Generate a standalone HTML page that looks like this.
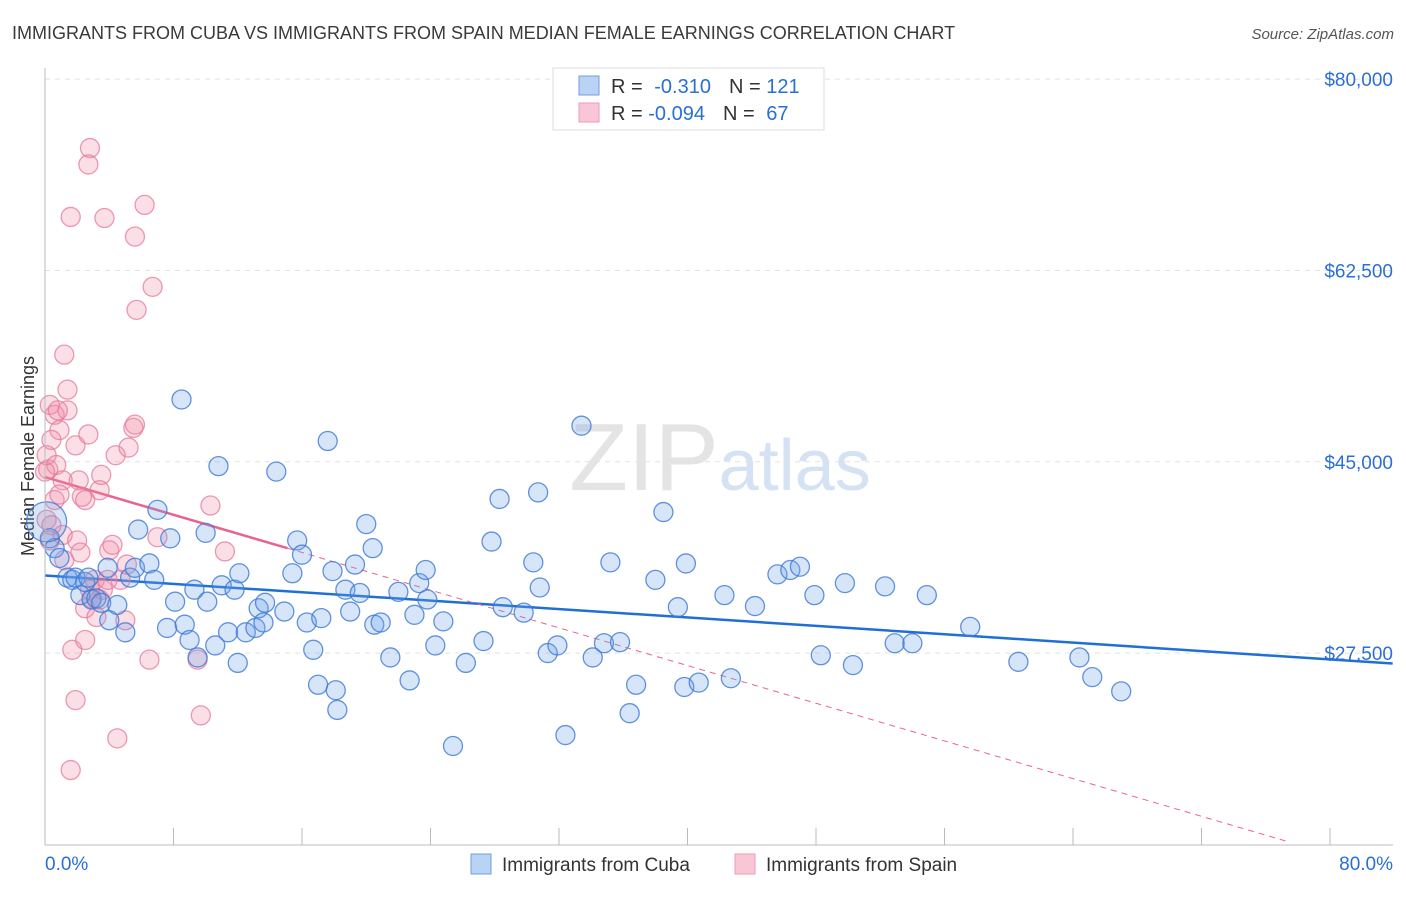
<!DOCTYPE html>
<html><head><meta charset="utf-8"><style>
body{margin:0;background:#fff;font-family:"Liberation Sans",sans-serif;}
svg text{font-family:"Liberation Sans",sans-serif;}
</style></head><body>
<svg id="chart" width="1406" height="892" xmlns="http://www.w3.org/2000/svg">
<text x="12" y="39" font-size="18" fill="#3a3a3a">IMMIGRANTS FROM CUBA VS IMMIGRANTS FROM SPAIN MEDIAN FEMALE EARNINGS CORRELATION CHART</text>
<text x="1394" y="39" font-size="15" fill="#555" text-anchor="end" font-style="italic">Source: ZipAtlas.com</text>
<text x="720" y="490" font-size="96" fill="#e4e4e4" text-anchor="middle" font-family="Liberation Serif">ZIP<tspan fill="#d4e2f4" font-family="Liberation Sans" font-size="72">atlas</tspan></text>
<text transform="translate(34,456) rotate(-90)" font-size="18" fill="#333" text-anchor="middle">Median Female Earnings</text>
<g id="grid"></g><g id="trend"></g><g id="pts"></g><g id="axes"></g>
<g>
<rect x="553" y="68" width="271" height="62" fill="#fff" stroke="#ddd"/>
<rect x="579" y="76" width="20" height="19" fill="#b9d3f5" stroke="#6f9de0"/>
<rect x="579" y="103" width="20" height="19" fill="#f9c6d6" stroke="#ee9ab5"/>
<text x="611" y="93" font-size="20" fill="#333">R = <tspan fill="#2a6fd6" dx="6">-0.310</tspan><tspan fill="#333" dx="18">N = </tspan><tspan fill="#2a6fd6">121</tspan></text>
<text x="611" y="120" font-size="20" fill="#333">R = <tspan fill="#2a6fd6">-0.094</tspan><tspan fill="#333" dx="18">N = </tspan><tspan fill="#2a6fd6" dx="6">67</tspan></text>
</g>
<g>
<rect x="471" y="854" width="20" height="20" fill="#b9d3f5" stroke="#6f9de0"/>
<text x="502" y="871" font-size="19" fill="#333">Immigrants from Cuba</text>
<rect x="735" y="854" width="20" height="20" fill="#f9c6d6" stroke="#ee9ab5"/>
<text x="766" y="871" font-size="19" fill="#333">Immigrants from Spain</text>
</g>
</svg>
<script>
const yTicks=[27500,45000,62500,80000];
const yTickLabels=["$27,500","$45,000","$62,500","$80,000"];
const xTickLabels=["0.0%","80.0%"];
const cubaX=[0.3,0.6,0.9,1.4,1.7,1.9,2.2,2.5,2.7,2.9,3.2,3.5,3.9,4.0,4.5,5.0,5.3,5.6,5.8,6.5,6.8,7.0,7.8,8.1,8.5,7.6,8.7,9.0,9.3,9.5,10.0,10.1,10.6,10.8,11.0,11.4,11.8,12.0,12.1,12.5,13.1,13.3,13.6,13.7,14.4,14.9,15.4,15.7,16.0,16.3,16.7,17.0,17.2,17.6,17.9,18.1,18.2,18.7,19.0,19.3,19.6,20.0,20.4,20.5,20.9,21.5,22.0,22.7,23.0,23.3,23.7,23.8,24.3,24.8,25.4,26.2,27.3,27.8,28.3,28.5,29.8,30.4,30.7,30.8,31.3,31.9,32.4,33.4,34.1,34.8,35.2,35.8,36.4,36.8,38.0,38.5,39.4,39.8,39.9,40.7,42.3,42.7,44.2,45.6,46.4,47.0,47.9,48.3,49.8,50.3,52.3,52.9,54.0,54.9,57.6,60.6,64.4,65.2,67.0];
const cubaY=[38.0,37.1,36.2,34.4,34.2,34.4,32.8,34.0,34.4,32.4,32.5,32.1,35.3,30.5,31.9,29.4,34.4,35.3,38.8,35.7,34.2,40.6,38.0,32.2,50.7,29.8,30.1,28.7,33.3,27.1,38.5,32.2,28.2,44.6,33.7,29.4,33.3,26.6,34.8,29.4,29.8,31.6,30.3,32.1,44.1,31.3,34.8,37.8,36.5,30.3,27.8,24.6,30.7,46.9,35.0,24.1,22.3,33.3,31.3,35.6,33.0,39.3,37.1,30.1,30.3,27.1,33.1,25.0,31.0,33.9,35.1,32.4,28.2,30.4,19.0,26.6,28.6,37.7,41.6,31.7,31.2,35.8,42.2,33.5,27.5,28.2,20.0,48.3,27.1,28.4,35.8,28.5,22.0,24.6,34.2,40.4,31.7,24.4,35.7,24.8,32.8,25.2,31.8,34.7,35.1,35.4,32.8,27.3,33.9,26.4,33.6,28.4,28.4,32.8,29.9,26.7,27.1,25.3,24.0];
const spainX=[0.1,0.2,0.3,0.4,0.6,0.7,0.9,1.1,1.1,1.2,1.4,1.4,1.6,1.6,1.7,1.9,1.9,2.0,2.1,2.2,2.3,2.5,2.5,2.7,2.7,2.8,2.9,3.1,3.2,3.4,3.5,3.6,3.7,3.9,4.0,4.2,4.4,4.5,4.7,5.0,5.1,5.2,5.5,5.6,5.6,5.7,6.2,6.5,6.7,7.0,9.5,9.7,10.3,11.2,1.2,0.3,0.0,0.6,0.9,2.5,3.4,0.8,0.4,0.1,2.8];
const spainY=[39.7,44.3,50.2,39.2,49.3,44.7,47.9,43.3,38.3,36.0,51.6,49.7,16.8,67.4,27.8,46.5,23.2,37.8,43.3,36.7,41.8,31.6,28.7,72.2,47.5,73.7,32.5,34.2,30.8,42.4,43.8,33.3,67.3,34.2,36.9,37.4,45.6,19.7,34.2,30.5,35.6,46.3,48.1,65.6,48.4,58.9,68.5,26.9,61.0,38.1,26.9,21.8,41.0,36.8,54.8,37.8,44.1,41.5,42.0,41.5,32.4,49.7,47.0,45.6,33.3];
const cubaTrend=[34.6,-0.096];   // intercept (k$), slope (k$ per %)
const spainTrend=[43.6,-0.431];
const NS="http://www.w3.org/2000/svg";
const X=p=>45+p*16.0625;
const Y=k=>953.7-k*1000*191.3/17500;
function mk(tag,attrs,parent){const e=document.createElementNS(NS,tag);for(const k in attrs)e.setAttribute(k,attrs[k]);parent.appendChild(e);return e;}
const grid=document.getElementById('grid'),axes=document.getElementById('axes'),trend=document.getElementById('trend'),pts=document.getElementById('pts');
yTicks.forEach((t,i)=>{
 const l=mk('line',{x1:45,x2:1393,y1:Y(t/1000),y2:Y(t/1000),stroke:'#e2e2e2','stroke-dasharray':'5,5'},grid);
 
 
 const tx=mk('text',{x:1393,y:Y(t/1000)+7,'font-size':19,fill:'#2a6fd6','text-anchor':'end'},axes);
 tx.textContent=yTickLabels[i];
 
 
});
const ya=mk('line',{x1:45,x2:45,y1:68,y2:845,stroke:'#bbb'},axes);


const xa=mk('line',{x1:45,x2:1393,y1:845,y2:845,stroke:'#bbb'},axes);


for(let i=0;i<=10;i++){const t=mk('line',{x1:X(i*8),x2:X(i*8),y1:828,y2:845,stroke:'#bbb'},axes);
 
 }
[[0,'start',45],[80,'end',1393]].forEach((d,i)=>{const t=mk('text',{x:d[2],y:870,'font-size':19,fill:'#2a6fd6','text-anchor':d[1]},axes);t.textContent=xTickLabels[i];
 
 });
// points
function dots(xs,ys,fill,stroke,name){xs.forEach((x,i)=>{const c=mk('circle',{cx:X(x),cy:Y(ys[i]),r:9.5,fill:fill,stroke:stroke,'stroke-width':1.3},pts);
 
 });}
dots(spainX,spainY,'rgba(240,140,170,0.28)','rgba(230,120,155,0.75)','spain-point');
dots(cubaX,cubaY,'rgba(110,160,230,0.28)','rgba(60,120,215,0.8)','cuba-point');
const big=mk('circle',{cx:X(0.1),cy:Y(39.5),r:20,fill:'rgba(110,160,230,0.28)',stroke:'rgba(60,120,215,0.8)','stroke-width':1.3},pts);


// trends
const cl=mk('line',{x1:X(0),y1:Y(cubaTrend[0]),x2:X(83.9),y2:Y(cubaTrend[0]+cubaTrend[1]*83.9),stroke:'#1f6fd6','stroke-width':2.5},trend);


const sl=mk('line',{x1:X(0),y1:Y(spainTrend[0]),x2:X(15.1),y2:Y(spainTrend[0]+spainTrend[1]*15.1),stroke:'#e8648e','stroke-width':2.5},trend);


const sd=mk('line',{x1:X(15.1),y1:Y(spainTrend[0]+spainTrend[1]*15.1),x2:X(77.5),y2:Y(spainTrend[0]+spainTrend[1]*77.5),stroke:'#e8648e','stroke-width':1,'stroke-dasharray':'6,5'},trend);


</script>
</body></html>
